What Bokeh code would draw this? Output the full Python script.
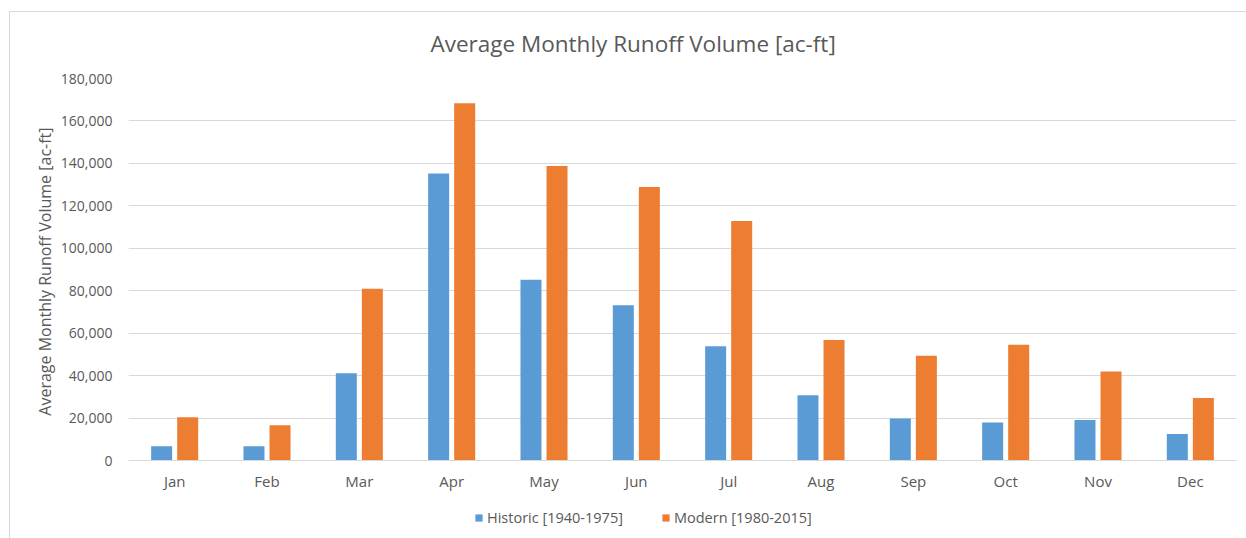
from bokeh.plotting import figure
from bokeh.layouts import column
from bokeh.models import ColumnDataSource, FactorRange, Range1d, NumeralTickFormatter, Legend, LegendItem, FixedTicker
from bokeh.transform import dodge
from bokeh.embed import file_html
from bokeh.resources import INLINE

months = ["Jan", "Feb", "Mar", "Apr", "May", "Jun", "Jul", "Aug", "Sep", "Oct", "Nov", "Dec"]
historic = [6700, 6700, 41100, 135200, 85200, 73100, 53800, 30700, 19800, 17900, 19100, 12500]
modern = [20400, 16600, 80900, 168300, 138800, 128900, 112900, 56800, 49300, 54600, 41900, 29500]
y_ticks = [0, 20000, 40000, 60000, 80000, 100000, 120000, 140000, 160000, 180000]
series_names = ["Historic [1940-1975]", "Modern [1980-2015]"]

BLUE = "#5B9BD5"
ORANGE = "#ED7D31"
GRID = "#D9D9D9"
TEXT = "#595959"
FONT = "Open Sans"

src = ColumnDataSource(dict(month=months, historic=historic, modern=modern))

p = figure(x_range=FactorRange(*months), y_range=Range1d(0, 180000),
           width=1246, height=508, output_backend="svg", toolbar_location=None,
           min_border_left=128, min_border_right=10, min_border_top=78, min_border_bottom=48,
           title="Average Monthly Runoff Volume [ac-ft]")
p.border_fill_color = None
p.background_fill_color = "white"

p.title.text_font = FONT
p.title.text_font_size = "22.5px"
p.title.text_font_style = "normal"
p.title.text_color = TEXT
p.title.align = "left"
p.title.offset = 302
p.title.standoff = 40

p.vbar(x=dodge("month", -0.141, range=p.x_range), top="historic", width=0.2275,
       source=src, color=BLUE, line_color=None)
p.vbar(x=dodge("month", 0.141, range=p.x_range), top="modern", width=0.2275,
       source=src, color=ORANGE, line_color=None)

p.outline_line_color = None
p.xgrid.grid_line_color = None
p.ygrid.grid_line_color = GRID
p.ygrid.grid_line_width = 1
p.ygrid.ticker = FixedTicker(ticks=y_ticks)

p.yaxis.ticker = FixedTicker(ticks=y_ticks)
p.yaxis.formatter = NumeralTickFormatter(format="0,0")
p.yaxis.axis_line_color = None
p.yaxis.major_tick_line_color = None
p.yaxis.minor_tick_line_color = None
p.yaxis.major_label_text_font = FONT
p.yaxis.major_label_text_font_size = "14px"
p.yaxis.major_label_text_color = TEXT
p.yaxis.major_label_standoff = 10
p.yaxis.axis_label = "Average Monthly Runoff  Volume [ac-ft]"
p.yaxis.axis_label_text_font = FONT
p.yaxis.axis_label_text_font_size = "16px"
p.yaxis.axis_label_text_font_style = "normal"
p.yaxis.axis_label_text_color = TEXT
p.yaxis.axis_label_standoff = 2

p.xaxis.axis_line_color = GRID
p.xaxis.major_tick_line_color = None
p.xaxis.minor_tick_line_color = None
p.xaxis.major_label_text_font = FONT
p.xaxis.major_label_text_font_size = "15px"
p.xaxis.major_label_text_color = TEXT
p.xaxis.major_label_standoff = 4

# legend strip
q = figure(width=1246, height=30, x_range=Range1d(0, 1), y_range=Range1d(0, 1),
           output_backend="svg", toolbar_location=None, x_axis_type=None, y_axis_type=None,
           min_border=0)
q.border_fill_color = None
q.background_fill_color = None
q.outline_line_color = None
q.xgrid.visible = False
q.ygrid.visible = False
# legend-only renderers, placed outside the visible range
g1 = q.vbar(x=[-5], top=[0], width=0.0, color=BLUE, line_color=None)
g2 = q.vbar(x=[-5], top=[0], width=0.0, color=ORANGE, line_color=None)

legend = Legend(items=[LegendItem(label=series_names[0], renderers=[g1]),
                       LegendItem(label=series_names[1], renderers=[g2])],
                orientation="horizontal", location=(346, 11))
legend.label_text_font = FONT
legend.label_text_font_size = "14.5px"
legend.label_text_color = TEXT
legend.glyph_width = 9
legend.glyph_height = 9
legend.label_standoff = 4
legend.spacing = 38
legend.border_line_color = None
legend.background_fill_alpha = 0
legend.padding = 0
legend.margin = 0
q.add_layout(legend, "center")

layout = column(p, q, spacing=0)
layout.styles = {
    "background": "linear-gradient(#D9D9D9, #D9D9D9) 9px 11px / 1px 100% no-repeat, "
                  "linear-gradient(#D9D9D9, #D9D9D9) 9px 11px / 100% 1px no-repeat, white"
}
open("out.html", "w").write(file_html(layout, INLINE))
